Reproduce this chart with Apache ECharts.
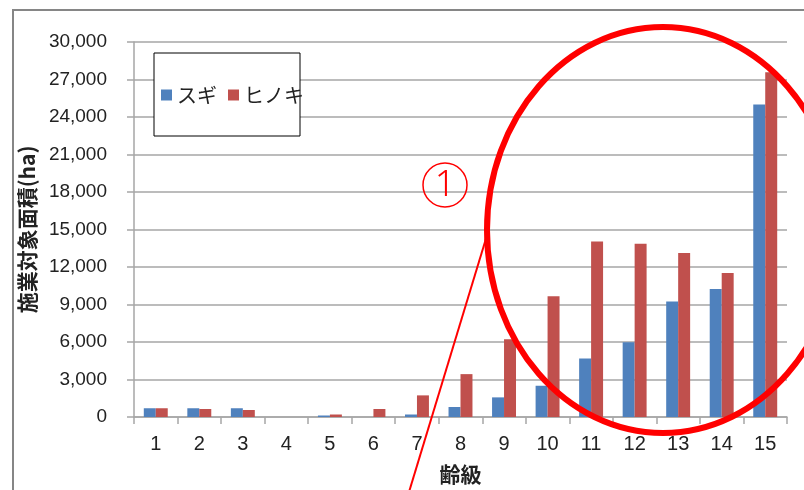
<!DOCTYPE html>
<html>
<head>
<meta charset="utf-8">
<script src="https://cdn.jsdelivr.net/npm/echarts@6/dist/echarts.min.js"></script>
<style>
  html, body { margin: 0; padding: 0; background: #fff; }
  #chart { width: 804px; height: 490px; }
</style>
</head>
<body>
<div id="chart"></div>
<script>
// 齢級 (age class)
const ageClasses = ['1', '2', '3', '4', '5', '6', '7', '8', '9', '10', '11', '12', '13', '14', '15'];
// 施業対象面積 (ha)
const sugi = [700, 700, 700, 0, 120, 0, 200, 800, 1570, 2500, 4680, 5990, 9240, 10250, 25000];
const hinoki = [700, 640, 560, 0, 200, 640, 1730, 3430, 6220, 9660, 14040, 13860, 13120, 11520, 27580];
const seriesNames = ['スギ', 'ヒノキ'];

const myChart = echarts.init(document.getElementById('chart'));
const gridColor = '#a6a6a6';
const textColor = '#222';
const numFont = 'Liberation Sans';
const jpFont = 'Noto Sans CJK JP';

const option = {
  animation: false,
  color: ['#4f81bd', '#c0504d'],
  legend: {
    data: seriesNames,
    left: 161,
    top: 83,
    padding: 0,
    icon: 'rect',
    itemWidth: 11,
    itemHeight: 11,
    itemGap: 11,
    textStyle: { fontFamily: jpFont, fontSize: 20, color: textColor, lineHeight: 24 }
  },
  grid: { left: 134, right: 17, top: 42, bottom: 72, containLabel: false },
  xAxis: {
    type: 'category',
    data: ageClasses,
    name: '齢級',
    nameLocation: 'middle',
    nameGap: 47,
    nameTextStyle: { fontFamily: jpFont, fontSize: 21, fontWeight: 'bold', color: textColor },
    axisLine: { lineStyle: { color: gridColor, width: 1.5 } },
    axisTick: { show: true, length: 7, lineStyle: { color: gridColor, width: 1.5 } },
    axisLabel: { margin: 17, fontFamily: numFont, fontSize: 20, color: textColor }
  },
  yAxis: {
    type: 'value',
    min: 0,
    max: 30000,
    interval: 3000,
    name: '施業対象面積(ha)',
    nameLocation: 'middle',
    nameGap: 95,
    nameRotate: 90,
    nameTextStyle: { fontFamily: jpFont, fontSize: 21, fontWeight: 'bold', color: textColor },
    axisLine: { show: true, lineStyle: { color: gridColor, width: 1.5 } },
    axisTick: { show: true, length: 7, lineStyle: { color: gridColor, width: 1.5 } },
    axisLabel: {
      margin: 27,
      fontFamily: numFont,
      fontSize: 19,
      color: textColor,
      formatter: v => v.toLocaleString('en-US')
    },
    splitLine: { lineStyle: { color: gridColor, width: 1.5 } }
  },
  series: [
    { name: seriesNames[0], type: 'bar', data: sugi, barGap: '0%', barCategoryGap: '45%' },
    { name: seriesNames[1], type: 'bar', data: hinoki, barGap: '0%', barCategoryGap: '45%' }
  ],
  graphic: [
    // chart frame
    { type: 'rect', z: 0, shape: { x: 13, y: 10, width: 900, height: 600 },
      style: { fill: null, stroke: '#868686', lineWidth: 2 } },
    // legend box
    { type: 'rect', z: 1, shape: { x: 154, y: 53, width: 146, height: 83 },
      style: { fill: '#fff', stroke: '#000', lineWidth: 1 } },
    // annotation: pointer line
    { type: 'line', z: 100, shape: { x1: 409, y1: 492, x2: 488, y2: 232 },
      style: { stroke: '#ff0000', lineWidth: 2 } },
    // annotation: big ellipse
    { type: 'ellipse', z: 100, shape: { cx: 663, cy: 230, rx: 176, ry: 203 },
      style: { fill: null, stroke: '#ff0000', lineWidth: 6 } },
    // annotation: circled number
    { type: 'circle', z: 100, shape: { cx: 445, cy: 185, r: 22 },
      style: { fill: null, stroke: '#ff0000', lineWidth: 1.5 } },
    { type: 'text', z: 100, x: 445, y: 186,
      style: { text: '1', fill: '#ff0000', font: '300 36px "Noto Sans"', align: 'center', verticalAlign: 'middle' } }
  ]
};

option && myChart.setOption(option);
</script>
</body>
</html>
